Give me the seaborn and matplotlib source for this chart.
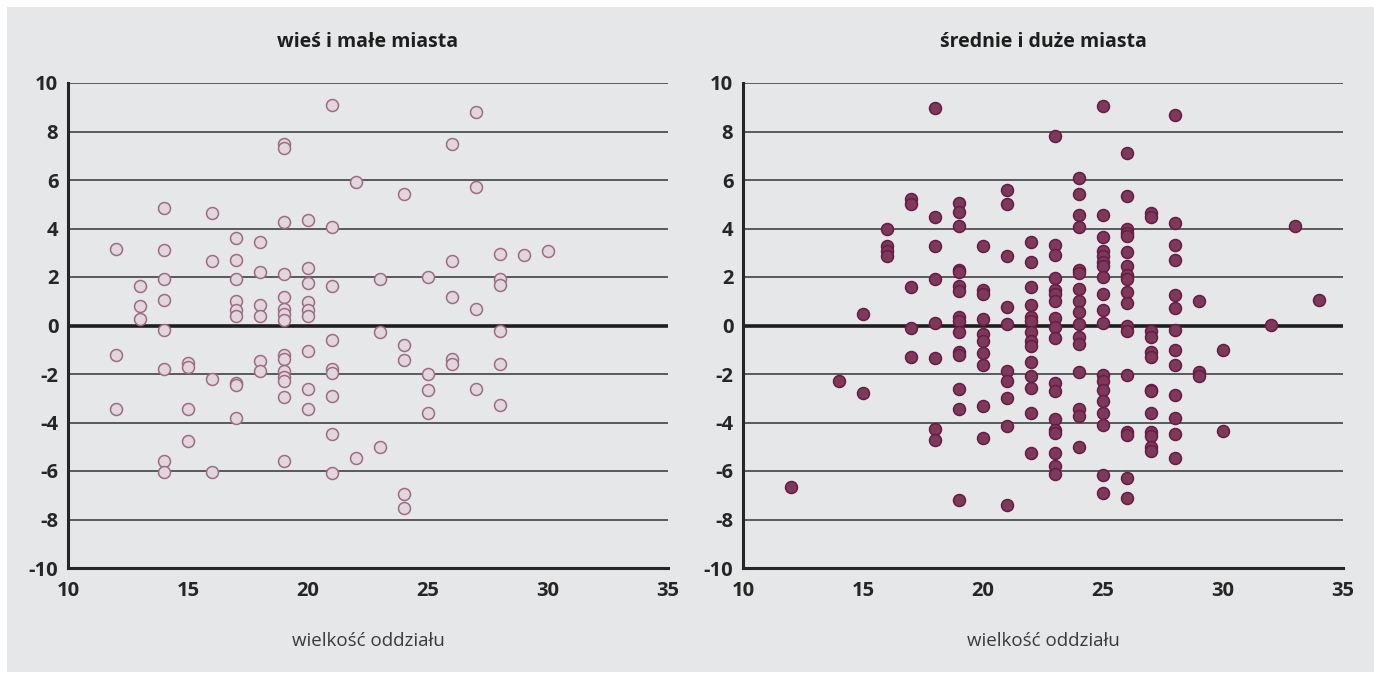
import matplotlib
matplotlib.use("Agg")
import matplotlib.pyplot as plt
from matplotlib.patches import Rectangle
import numpy as np
import pandas as pd
import seaborn as sns

sns.set_theme(style="white")
plt.rcParams["font.family"] = ["Open Sans", "DejaVu Sans"]

# class size (x) and score difference (y), grouped by class size
rural_size = (
    [12] * 3 + [13] * 3 + [14] * 8 + [15] * 4 + [16] * 4 + [17] * 9 + [18] * 6
    + [19] * 15 + [20] * 9 + [21] * 9 + [22] * 2 + [23] * 3 + [24] * 5 + [25] * 4
    + [26] * 5 + [27] * 4 + [28] * 6 + [29] * 1 + [30] * 1
)
rural_diff = [
    3.15, -1.23, -3.46,
    1.61, 0.81, 0.26,
    4.86, 3.1, 1.9, 1.07, -0.2, -1.78, -5.58, -6.06,
    -1.56, -1.72, -3.46, -4.75,
    4.63, 2.66, -2.2, -6.06,
    3.6, 2.71, 1.9, 1.02, 0.62, 0.41, -2.37, -2.45, -3.82,
    3.46, 2.22, 0.84, 0.4, -1.47, -1.86,
    7.5, 7.3, 4.28, 2.13, 1.17, 0.69, 0.48, 0.21, -1.21, -1.4, -1.86, -2.11, -2.3, -2.95, -5.6,
    4.35, 2.37, 1.76, 0.95, 0.62, 0.4, -1.05, -2.62, -3.46,
    9.1, 4.05, 1.61, -0.59, -1.79, -1.97, -2.89, -4.48, -6.1,
    5.9, -5.48,
    1.9, -0.25, -5.0,
    5.44, -0.79, -1.43, -6.94, -7.53,
    1.98, -2.0, -2.64, -3.62,
    7.5, 2.67, 1.17, -1.4, -1.6,
    8.8, 5.73, 0.69, -2.6,
    2.95, 1.91, 1.69, -0.22, -1.6, -3.28,
    2.89,
    3.09,
]

urban_size = (
    [12] * 1 + [14] * 1 + [15] * 2 + [16] * 4 + [17] * 5 + [18] * 8 + [19] * 15
    + [20] * 10 + [21] * 10 + [22] * 14 + [23] * 18 + [24] * 16 + [25] * 19
    + [26] * 18 + [27] * 13 + [28] * 13 + [29] * 3 + [30] * 2 + [32] * 1
    + [33] * 1 + [34] * 1
)
urban_diff = [
    -6.64,
    -2.29,
    0.48, -2.8,
    3.98, 3.28, 3.09, 2.85,
    5.23, 5.01, 1.58, -0.1, -1.28,
    8.98, 4.48, 3.28, 1.93, 0.1, -1.35, -4.28, -4.74,
    5.07, 4.7, 4.09, 2.3, 2.22, 1.62, 1.42, 0.34, 0.2, -0.25, -1.1, -1.2, -2.63, -3.44, -7.18,
    3.28, 1.47, 1.29, 0.25, -0.37, -0.65, -1.12, -1.64, -3.33, -4.63,
    5.58, 5.03, 2.86, 0.77, 0.05, -1.89, -2.27, -3.0, -4.16, -7.4,
    3.43, 2.62, 1.58, 0.83, 0.33, 0.2, -0.28, -0.65, -0.84, -1.5, -2.09, -2.57, -3.6, -5.26,
    7.81, 3.33, 2.92, 1.96, 1.47, 1.28, 1.03, 0.32, -0.05, -0.51, -2.38, -2.7, -3.84, -4.3,
    -4.45, -5.27, -5.79, -6.14,
    6.09, 5.43, 4.56, 4.05, 2.27, 2.16, 1.52, 1.02, 0.55, 0.05, -0.48, -0.76, -1.9, -3.43,
    -3.72, -5.01,
    9.05, 4.56, 3.65, 3.09, 2.85, 2.62, 2.47, 2.0, 1.29, 0.62, 0.11, -2.04, -2.27, -2.64,
    -3.13, -3.6, -4.12, -6.16, -6.89,
    7.1, 5.32, 3.97, 3.81, 3.68, 3.04, 2.47, 2.09, 1.93, 1.38, 0.92, -0.04, -0.21, -2.04,
    -4.41, -4.5, -6.27, -7.12,
    4.64, 4.46, -0.21, -0.48, -1.1, -1.28, -2.66, -2.71, -3.62, -4.41, -4.55, -4.99, -5.17,
    8.7, 4.24, 3.31, 2.7, 1.27, 0.73, -0.17, -0.99, -1.64, -2.85, -3.83, -4.49, -5.45,
    1.0, -1.93, -2.07,
    -1.0, -4.37,
    0.04,
    4.09,
    1.07,
]

panel_titles = ["wieś i małe miasta", "średnie i duże miasta"]
x_label = "wielkość oddziału"
x_ticks = [10, 15, 20, 25, 30, 35]
y_ticks = [-10, -8, -6, -4, -2, 0, 2, 4, 6, 8, 10]

panels = [
    (pd.DataFrame({"size": rural_size, "diff": rural_diff}), "#E3D5DE", "#9A6D83"),
    (pd.DataFrame({"size": urban_size, "diff": urban_diff}), "#7C3959", "#681B43"),
]

BG = "#E6E7E8"
W, H = 1374, 673
fig = plt.figure(figsize=(W / 100, H / 100), dpi=100)
fig.patch.set_facecolor("white")
fig.patches.append(Rectangle((7 / W, 1 / H), 1 - 7 / W, 1 - 8 / H,
                             transform=fig.transFigure, facecolor=BG,
                             edgecolor="none", zorder=-5))

ax_w = 600 / W
ax_h = (568 - 83) / H
ax_b = (H - 568) / H
lefts = [68 / W, 743 / W]

for i, (df, face, edge) in enumerate(panels):
    ax = fig.add_axes([lefts[i], ax_b, ax_w, ax_h])
    ax.set_zorder(2)
    ax.set_facecolor(BG)
    ax.set_xlim(10, 35)
    ax.set_ylim(-10, 10)
    ax.set_yticks(y_ticks)
    ax.set_xticks(x_ticks)
    ax.set_yticklabels([str(t) for t in y_ticks])
    ax.set_xticklabels([str(t) for t in x_ticks])

    for y in y_ticks[1:]:
        if y == 0:
            continue
        ax.axhline(y, color="#333333", lw=1.1, zorder=1)
    ax.axhline(0, color="#1e1e1e", lw=2.6, zorder=1)

    sns.scatterplot(data=df, x="size", y="diff", ax=ax, s=74, color=face,
                    edgecolor=edge, linewidth=1.1, zorder=3, legend=False)

    for side in ["top", "right"]:
        ax.spines[side].set_visible(False)
    for side in ["left", "bottom"]:
        ax.spines[side].set_color("#262626")
        ax.spines[side].set_linewidth(2.2)

    ax.tick_params(axis="x", direction="in", length=8.5, width=2, color="#262626",
                   pad=9, labelsize=14.5, labelcolor="#262626")
    ax.tick_params(axis="y", length=0, pad=7, labelsize=14.5, labelcolor="#262626")
    for lab in ax.get_xticklabels() + ax.get_yticklabels():
        lab.set_fontweight("bold")

    ax.set_xlabel(x_label, fontsize=13.5, color="#3a3a3a", labelpad=23)
    ax.set_ylabel("")
    ax.set_title(panel_titles[i], fontsize=14, fontweight="bold", color="#1e1e1e",
                 pad=26)

fig.savefig("out.png", dpi=100, facecolor=fig.get_facecolor())
